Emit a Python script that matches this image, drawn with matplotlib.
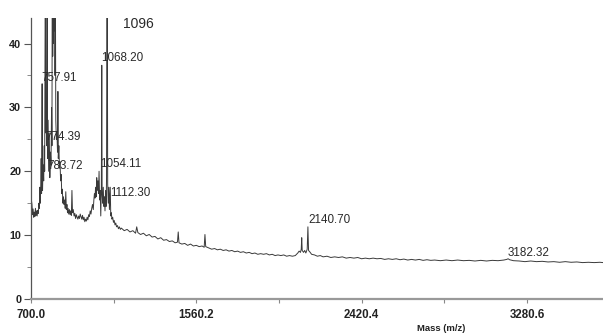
import numpy as np
import matplotlib
matplotlib.use("Agg")
import matplotlib.pyplot as plt
from matplotlib.ticker import MultipleLocator, FixedLocator

plt.rcParams['font.family'] = ['Liberation Sans', 'DejaVu Sans']

# low mass region (peak cluster around 750-850 and 1050-1115)
mass_low = [700, 702, 705, 708, 711, 714, 717, 720, 723, 726, 729, 732, 735, 738, 741, 744,
            746, 748, 751, 753, 755, 757.9, 760, 763, 766, 769, 771, 774.4, 777, 780, 781.5,
            783.7, 786, 789, 792, 795, 798, 801, 804, 807, 809, 811, 813, 815, 817, 819, 821,
            823, 825, 827, 829, 832, 835, 838, 840, 842, 845, 848, 851, 854, 857, 860, 863,
            866, 869, 872, 875, 878, 881, 884, 887, 890, 893, 896, 900, 903, 906, 910, 913,
            916, 920, 924, 928, 932, 936, 940, 944, 948, 952, 956, 960, 964, 968, 972, 976,
            980, 984, 988, 992, 996, 1000, 1004, 1008, 1012, 1016, 1020, 1024, 1027, 1030,
            1033, 1036, 1039, 1042, 1045, 1048, 1051, 1054.1, 1057, 1060, 1063, 1066, 1068.2,
            1070, 1073, 1076, 1079, 1082, 1085, 1088, 1091, 1093, 1096, 1099, 1102, 1105, 1108,
            1110, 1112.3, 1115, 1118, 1121, 1125, 1129, 1133, 1137, 1141, 1145, 1150, 1155,
            1160, 1165]
int_low = [14.0, 15.5, 14.8, 13.2, 14.1, 12.8, 13.6, 12.9, 14.2, 13.1, 13.8, 13.0, 13.9, 13.4,
           15.0, 14.2, 17.5, 15.0, 18.0, 22.0, 16.5, 33.7, 17.0, 21.0, 18.5, 24.0, 20.0, 52.0,
           26.0, 31.0, 24.0, 55.0, 22.0, 28.0, 20.0, 26.0, 19.0, 23.0, 21.0, 30.0, 24.0, 60.0,
           38.0, 70.0, 40.0, 65.0, 42.0, 58.0, 35.0, 48.0, 28.0, 25.0, 26.0, 23.0, 32.5, 22.0,
           24.0, 20.5, 21.5, 18.5, 19.5, 16.5, 17.2, 15.0, 16.0, 14.8, 15.5, 14.2, 16.8, 14.0,
           14.8, 13.5, 14.2, 13.3, 14.0, 13.2, 13.8, 13.1, 17.0, 13.5, 14.0, 13.0, 13.4, 12.6,
           13.2, 12.8, 12.5, 13.0, 12.6, 13.3, 12.9, 12.5, 13.1, 12.4, 12.8, 12.1, 12.5, 12.2,
           12.8, 12.4, 13.2, 12.9, 13.8, 13.3, 14.2, 14.8, 14.0, 15.5, 16.5, 15.8, 17.5, 16.0,
           19.0, 17.0, 18.5, 16.5, 20.0, 15.5, 17.0, 13.0, 17.5, 36.6, 16.5, 15.0, 17.5, 14.5,
           16.0, 13.8, 17.0, 14.5, 19.0, 60.0, 18.0, 15.0, 17.5, 14.0, 15.5, 17.5, 13.0, 13.5,
           12.5, 12.8, 12.0, 12.3, 11.6, 11.9, 11.3, 11.5, 11.0, 11.3, 10.9]

# middle region up to the 2140 doublet
mass_mid = [1170, 1185, 1200, 1215, 1230, 1244, 1250, 1256, 1270, 1285, 1300, 1315, 1330, 1345,
            1360, 1375, 1390, 1405, 1420, 1435, 1450, 1462, 1466, 1470, 1485, 1500, 1515, 1530,
            1545, 1560, 1575, 1590, 1601, 1605, 1609, 1625, 1640, 1655, 1670, 1685, 1700, 1715,
            1730, 1745, 1760, 1775, 1790, 1805, 1820, 1835, 1850, 1865, 1880, 1895, 1910, 1925,
            1940, 1955, 1970, 1985, 2000, 2015, 2030, 2045, 2060, 2075, 2088, 2095, 2102, 2106,
            2108.5, 2111, 2118, 2124, 2130, 2137, 2140.7, 2144, 2150, 2160]
int_mid = [11.1, 10.7, 10.9, 10.5, 10.7, 10.3, 11.3, 10.4, 10.1, 10.3, 9.9, 10.1, 9.7, 9.8,
           9.4, 9.6, 9.2, 9.3, 9.0, 9.1, 8.8, 8.9, 10.5, 8.8, 8.6, 8.7, 8.4, 8.6, 8.3, 8.4, 8.2,
           8.3, 8.1, 10.1, 8.2, 8.0, 7.8, 7.9, 7.7, 7.8, 7.6, 7.7, 7.5, 7.6, 7.4, 7.5, 7.3, 7.4,
           7.2, 7.3, 7.1, 7.2, 7.0, 7.1, 7.0, 7.1, 6.9, 7.0, 6.8, 6.9, 6.8, 6.9, 6.7, 6.8, 6.7,
           6.8, 7.2, 7.5, 7.3, 7.8, 9.6, 7.6, 7.3, 7.6, 7.2, 7.8, 11.3, 7.6, 7.4, 7.0]

# high mass tail
mass_high = [2175, 2190, 2205, 2220, 2240, 2260, 2280, 2300, 2320, 2340, 2360, 2380, 2400, 2420,
             2440, 2460, 2480, 2500, 2520, 2540, 2560, 2580, 2600, 2620, 2640, 2660, 2680, 2700,
             2720, 2740, 2760, 2780, 2800, 2830, 2860, 2890, 2920, 2950, 2980, 3010, 3040, 3070,
             3100, 3130, 3160, 3175, 3182.3, 3190, 3210, 3240, 3270, 3300, 3330, 3360, 3390,
             3420, 3450, 3480, 3510, 3540, 3570, 3600, 3630, 3660, 3676]
int_high = [6.9, 6.7, 6.8, 6.6, 6.7, 6.5, 6.6, 6.5, 6.6, 6.4, 6.5, 6.4, 6.5, 6.3, 6.4, 6.3,
            6.4, 6.3, 6.35, 6.2, 6.3, 6.2, 6.3, 6.15, 6.25, 6.1, 6.2, 6.1, 6.2, 6.05, 6.15,
            6.05, 6.1, 6.0, 6.1, 6.0, 6.1, 6.0, 6.05, 5.95, 6.05, 5.95, 6.05, 6.0, 6.1, 6.2,
            6.3, 6.15, 6.0, 5.95, 5.85, 5.95, 5.85, 5.9, 5.8, 5.85, 5.75, 5.85, 5.75, 5.8, 5.7,
            5.75, 5.7, 5.75, 5.7]

peak_labels = ["1096", "1068.20", "757.91", "774.39", "783.72", "1054.11", "1112.30",
               "2140.70", "3182.32"]
x_ticks = [700.0, 1560.2, 2420.4, 3280.6]

mass = np.array(mass_low + mass_mid + mass_high)
intensity = np.array(int_low + int_mid + int_high)

fig = plt.figure(figsize=(6.03, 3.35), dpi=100)
ax = fig.add_axes([31 / 603, 1 - 299 / 335, 572 / 603, 281 / 335])
ax.plot(mass, intensity, color='#3a3a3a', lw=0.7)

ax.set_xlim(700, 3676)
ax.set_ylim(0, 44)

# label anchor points (mass, intensity) for the peak annotations
label_pos = [(1179, 43.1), (1066, 37.8), (756, 34.6), (773, 25.3), (783, 20.8),
             (1060, 21.2), (1112, 16.6), (2141, 12.3), (3182, 7.2)]
for txt, (lx, ly) in zip(peak_labels, label_pos):
    fs = 10 if txt == "1096" else 8.4
    ax.text(lx, ly, txt, fontsize=fs, color='#2a2a2a', ha='left', va='center')

for s in ['top', 'right']:
    ax.spines[s].set_visible(False)
ax.spines['left'].set_color('#555555')
ax.spines['left'].set_linewidth(0.9)
ax.spines['bottom'].set_color('#999999')
ax.spines['bottom'].set_linewidth(1.6)

ax.xaxis.set_major_locator(FixedLocator(x_ticks))
ax.set_xticklabels(["%.1f" % v for v in x_ticks])
ax.xaxis.set_minor_locator(FixedLocator([1130.1, 1990.3, 2850.5]))
ax.yaxis.set_major_locator(MultipleLocator(10))
ax.yaxis.set_minor_locator(MultipleLocator(5))
ax.tick_params(axis='x', which='both', direction='out', length=3, width=0.8, color='#888888',
               labelsize=8.3, pad=4)
ax.tick_params(axis='y', which='major', direction='out', length=5, width=0.8, color='#555555',
               labelsize=7.8, pad=2)
ax.tick_params(axis='y', which='minor', direction='out', length=3, width=0.6, color='#777777')
for lab in ax.get_xticklabels() + ax.get_yticklabels():
    lab.set_fontweight('bold')
    lab.set_color('#222222')

ax.set_xlabel("Mass (m/z)", fontsize=6.8, fontweight='bold', color='#222222')
ax.xaxis.set_label_coords((441 - 31) / 572, -0.09)

fig.savefig("out.png", dpi=100)
